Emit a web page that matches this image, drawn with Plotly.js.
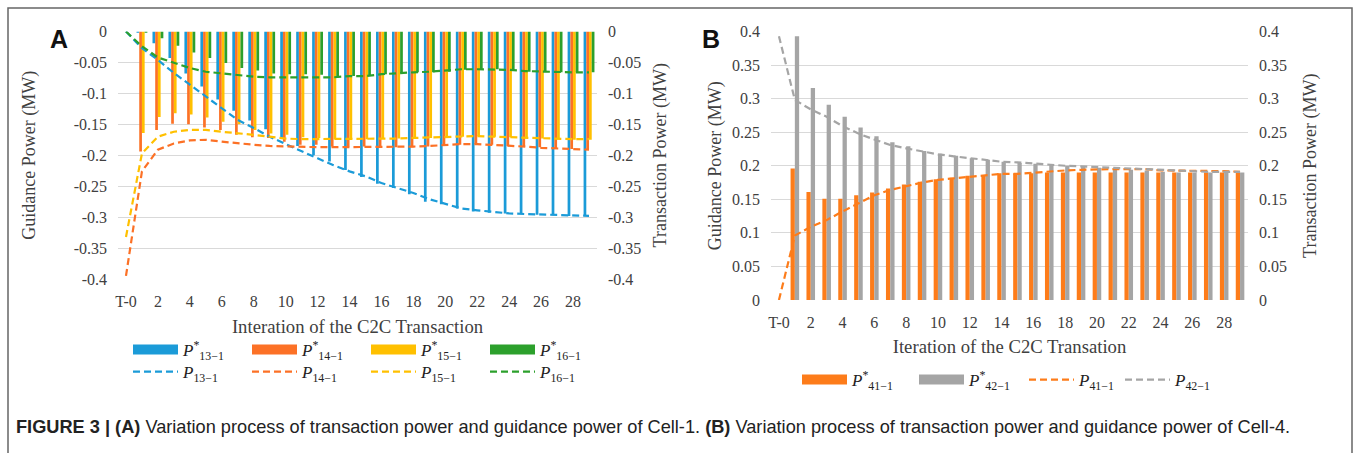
<!DOCTYPE html>
<html>
<head>
<meta charset="utf-8">
<script src="https://cdn.plot.ly/plotly-3.0.1.min.js"></script>
<style>
html,body{margin:0;padding:0;background:#fff;}
#chart{width:1355px;height:453px;}
</style>
</head>
<body>
<div id="chart"></div>
<script>
// ---------- categories ----------
const categories = ['T-0','1','2','3','4','5','6','7','8','9','10','11','12','13','14','15','16','17','18','19','20','21','22','23','24','25','26','27','28','29'];
const xTickVals = ['T-0','2','4','6','8','10','12','14','16','18','20','22','24','26','28'];

// ---------- Panel A: guidance power (bars) ----------
const bar13 = [null,-0.002,-0.019,-0.043,-0.068,-0.089,-0.110,-0.128,-0.144,-0.158,-0.173,-0.185,-0.200,-0.210,-0.224,-0.235,-0.246,-0.253,-0.263,-0.275,-0.279,-0.286,-0.291,-0.293,-0.294,-0.295,-0.296,-0.297,-0.298,-0.298];
const bar14 = [null,-0.194,-0.159,-0.149,-0.150,-0.155,-0.159,-0.167,-0.171,-0.172,-0.178,-0.183,-0.183,-0.186,-0.186,-0.186,-0.186,-0.187,-0.187,-0.186,-0.185,-0.183,-0.182,-0.183,-0.185,-0.186,-0.187,-0.189,-0.190,-0.191];
const bar15 = [null,-0.164,-0.138,-0.132,-0.134,-0.139,-0.146,-0.150,-0.159,-0.165,-0.167,-0.171,-0.172,-0.174,-0.174,-0.174,-0.173,-0.173,-0.173,-0.172,-0.171,-0.170,-0.169,-0.170,-0.171,-0.172,-0.173,-0.174,-0.175,-0.175];
const bar16 = [null,-0.002,-0.011,-0.023,-0.034,-0.043,-0.051,-0.059,-0.063,-0.068,-0.069,-0.069,-0.070,-0.072,-0.072,-0.072,-0.069,-0.067,-0.066,-0.066,-0.065,-0.062,-0.061,-0.061,-0.062,-0.065,-0.065,-0.066,-0.066,-0.066];

// ---------- Panel A: transaction power (dashed lines) ----------
const line13 = [0,-0.027,-0.046,-0.067,-0.086,-0.105,-0.124,-0.143,-0.156,-0.170,-0.182,-0.194,-0.205,-0.216,-0.226,-0.234,-0.245,-0.253,-0.261,-0.271,-0.278,-0.286,-0.289,-0.292,-0.294,-0.295,-0.296,-0.297,-0.297,-0.298];
const line14 = [-0.395,-0.226,-0.191,-0.181,-0.176,-0.175,-0.178,-0.181,-0.183,-0.185,-0.186,-0.187,-0.187,-0.187,-0.187,-0.187,-0.187,-0.186,-0.186,-0.185,-0.183,-0.182,-0.182,-0.183,-0.185,-0.186,-0.188,-0.189,-0.190,-0.191];
const line15 = [-0.332,-0.197,-0.170,-0.162,-0.159,-0.159,-0.162,-0.164,-0.167,-0.170,-0.173,-0.174,-0.174,-0.174,-0.174,-0.174,-0.173,-0.173,-0.172,-0.171,-0.170,-0.169,-0.169,-0.170,-0.171,-0.172,-0.173,-0.174,-0.174,-0.174];
const line16 = [0,-0.024,-0.042,-0.051,-0.059,-0.065,-0.068,-0.071,-0.073,-0.074,-0.074,-0.074,-0.074,-0.074,-0.072,-0.072,-0.069,-0.067,-0.066,-0.065,-0.063,-0.061,-0.061,-0.061,-0.062,-0.064,-0.065,-0.066,-0.066,-0.066];

// ---------- Panel B ----------
const bar41 = [null,0.196,0.161,0.151,0.151,0.156,0.160,0.166,0.172,0.176,0.180,0.182,0.185,0.186,0.189,0.189,0.189,0.190,0.190,0.190,0.190,0.190,0.190,0.190,0.190,0.190,0.190,0.190,0.190,0.190];
const bar42 = [null,0.393,0.316,0.291,0.273,0.257,0.244,0.235,0.229,0.222,0.218,0.215,0.211,0.209,0.206,0.204,0.203,0.201,0.200,0.199,0.197,0.195,0.194,0.193,0.191,0.190,0.190,0.190,0.190,0.190];
const line41 = [0,0.096,0.109,0.119,0.132,0.144,0.156,0.164,0.170,0.175,0.179,0.181,0.184,0.186,0.188,0.188,0.190,0.191,0.193,0.194,0.195,0.195,0.195,0.195,0.193,0.193,0.192,0.192,0.192,0.191];
const line42 = [0.393,0.298,0.284,0.273,0.259,0.248,0.239,0.231,0.226,0.221,0.217,0.214,0.211,0.209,0.206,0.205,0.203,0.201,0.200,0.199,0.198,0.196,0.195,0.194,0.193,0.192,0.192,0.191,0.191,0.191];

// ---------- tick labels ----------
const yTicksA = [0,-0.05,-0.1,-0.15,-0.2,-0.25,-0.3,-0.35,-0.4];
const yTickTextA = ['0','-0.05','-0.1','-0.15','-0.2','-0.25','-0.3','-0.35','-0.4'];
const yTicksB = [0,0.05,0.1,0.15,0.2,0.25,0.3,0.35,0.4];
const yTickTextB = ['0','0.05','0.1','0.15','0.2','0.25','0.3','0.35','0.4'];

// ---------- legend labels ----------
const labA_bar = ['<i>P</i><sup>*</sup><sub>13−1</sub>','<i>P</i><sup>*</sup><sub>14−1</sub>','<i>P</i><sup>*</sup><sub>15−1</sub>','<i>P</i><sup>*</sup><sub>16−1</sub>'];
const labA_line = ['<i>P</i><sub>13−1</sub>','<i>P</i><sub>14−1</sub>','<i>P</i><sub>15−1</sub>','<i>P</i><sub>16−1</sub>'];
const labB = ['<i>P</i><sup>*</sup><sub>41−1</sub>','<i>P</i><sup>*</sup><sub>42−1</sub>','<i>P</i><sub>41−1</sub>','<i>P</i><sub>42−1</sub>'];

// ---------- styling ----------
const W = 1355, H = 453;
const colA = ['#1b9bd8','#fc7126','#ffc000','#2ca02c'];
const colB = ['#fd7c1a','#a5a5a5'];
const serif = 'Liberation Serif, Times New Roman, serif';
const tickFont = {family: serif, size: 16, color: '#404040'};
const titleFont = {family: serif, size: 18, color: '#404040'};
const xTitleFont = {family: serif, size: 18.7, color: '#404040'};
const legFont = {family: serif, size: 17, color: '#222'};
const dashStyle = '7px,4px';

const barsA = [bar13, bar14, bar15, bar16];
const linesA = [line13, line14, line15, line16];
const wA = 0.17, wB = 0.27;

const traces = [];
barsA.forEach((b, i) => {
  traces.push({type: 'bar', x: categories, y: b, xaxis: 'x', yaxis: 'y',
    marker: {color: colA[i], line: {width: 0}}, width: wA, offset: -2*wA + i*wA,
    showlegend: false, hoverinfo: 'skip'});
});
linesA.forEach((l, i) => {
  traces.push({type: 'scatter', mode: 'lines', x: categories, y: l, xaxis: 'x', yaxis: 'y2',
    line: {color: colA[i], width: 2.2, dash: dashStyle}, cliponaxis: false,
    name: labA_line[i], legend: 'legend2'});
});
// legend swatches for bars (wide rectangles as in the original)
barsA.forEach((b, i) => {
  traces.push({type: 'scatter', mode: 'lines', x: [null], y: [null], xaxis: 'x', yaxis: 'y',
    line: {color: colA[i], width: 10}, name: labA_bar[i], legend: 'legend'});
});

[bar41, bar42].forEach((b, i) => {
  traces.push({type: 'bar', x: categories, y: b, xaxis: 'x2', yaxis: 'y3',
    marker: {color: colB[i], line: {width: 0}}, width: wB, offset: -wB + i*wB,
    showlegend: false, hoverinfo: 'skip'});
});
[bar41, bar42].forEach((b, i) => {
  traces.push({type: 'scatter', mode: 'lines', x: [null], y: [null], xaxis: 'x2', yaxis: 'y3',
    line: {color: colB[i], width: 10}, name: labB[i], legend: 'legend3'});
});
[line41, line42].forEach((l, i) => {
  traces.push({type: 'scatter', mode: 'lines', x: categories, y: l, xaxis: 'x2', yaxis: 'y4',
    line: {color: colB[i], width: 2.2, dash: dashStyle}, cliponaxis: false,
    name: labB[i+2], legend: 'legend4'});
});

const xA = [118/W, 597/W], xB = [771/W, 1248/W];
const yA = [1-279/H, 1-31.5/H], yB = [1-300/H, 1-31.5/H];

const xaxisBase = {type: 'category', categoryorder: 'array', categoryarray: categories,
  tickmode: 'array', tickvals: xTickVals, ticktext: xTickVals, ticks: '', showgrid: false,
  zeroline: false, showline: false, tickfont: tickFont, ticklabelstandoff: 11,
  automargin: false, fixedrange: true};

const yBase = {tickmode: 'array', ticks: '', zeroline: false, showline: false,
  gridcolor: '#d9d9d9', gridwidth: 1, tickfont: tickFont, automargin: false,
  ticklabelstandoff: 10, fixedrange: true};

const legendBase = {orientation: 'h', font: legFont, bgcolor: 'rgba(0,0,0,0)',
  itemwidth: 45, xanchor: 'left', yanchor: 'middle', tracegroupgap: 0, traceorder: 'normal',
  itemclick: false, itemdoubleclick: false};

const layout = {
  width: W, height: H, margin: {l: 0, r: 0, t: 0, b: 0},
  paper_bgcolor: '#fff', plot_bgcolor: 'rgba(0,0,0,0)',
  barmode: 'group', showlegend: true, hovermode: false,
  xaxis: Object.assign({}, xaxisBase, {domain: xA, anchor: 'y',
    title: {text: 'Interation of the C2C Transaction', font: xTitleFont, standoff: 10}}),
  yaxis: Object.assign({}, yBase, {domain: yA, anchor: 'x', range: [-0.4, 0],
    tickvals: yTicksA, ticktext: yTickTextA,
    title: {text: 'Guidance Power (MW)', font: titleFont, standoff: 33}}),
  yaxis2: Object.assign({}, yBase, {overlaying: 'y', anchor: 'x', side: 'right', range: [-0.4, 0],
    tickvals: yTicksA, ticktext: yTickTextA, showgrid: false,
    title: {text: 'Transaction Power (MW)', font: titleFont, standoff: 13}}),
  xaxis2: Object.assign({}, xaxisBase, {domain: xB, anchor: 'y3',
    title: {text: 'Iteration of the C2C Transation', font: xTitleFont, standoff: 9}}),
  yaxis3: Object.assign({}, yBase, {domain: yB, anchor: 'x2', range: [0, 0.4],
    tickvals: yTicksB, ticktext: yTickTextB,
    title: {text: 'Guidance Power (MW)', font: titleFont, standoff: 5}}),
  yaxis4: Object.assign({}, yBase, {overlaying: 'y3', anchor: 'x2', side: 'right', range: [0, 0.4],
    tickvals: yTicksB, ticktext: yTickTextB, showgrid: false,
    title: {text: 'Transaction Power (MW)', font: titleFont, standoff: 17}}),
  legend: Object.assign({}, legendBase, {x: 128/W, y: 1-350/H, entrywidth: 59}),
  legend2: Object.assign({}, legendBase, {x: 128/W, y: 1-372/H, entrywidth: 59}),
  legend3: Object.assign({}, legendBase, {x: 797/W, y: 1-380/H, entrywidth: 57}),
  legend4: Object.assign({}, legendBase, {x: 1024/W, y: 1-380/H, entrywidth: 36}),
  annotations: [
    {text: '<b>A</b>', x: 59/W, y: 1-39/H, xref: 'paper', yref: 'paper', showarrow: false,
     xanchor: 'center', yanchor: 'middle', font: {family: 'Liberation Sans, Arial, sans-serif', size: 25, color: '#111'}},
    {text: '<b>B</b>', x: 711/W, y: 1-39/H, xref: 'paper', yref: 'paper', showarrow: false,
     xanchor: 'center', yanchor: 'middle', font: {family: 'Liberation Sans, Arial, sans-serif', size: 25, color: '#111'}},
    {text: '<b>FIGURE 3 | (A)</b> Variation process of transaction power and guidance power of Cell-1. <b>(B)</b> Variation process of transaction power and guidance power of Cell-4.',
     x: 14/W, y: 1-427/H, xref: 'paper', yref: 'paper', showarrow: false, xanchor: 'left', yanchor: 'middle',
     font: {family: 'Liberation Sans, Arial, sans-serif', size: 18.2, color: '#222'}}
  ],
  shapes: [
    {type: 'rect', xref: 'paper', yref: 'paper', x0: 8/W, x1: 1352/W, y0: -0.2, y1: 1-8/H,
     line: {color: '#666', width: 1.5}, fillcolor: 'rgba(0,0,0,0)', layer: 'below'}
  ]
};

Plotly.newPlot('chart', traces, layout, {staticPlot: true, displayModeBar: false});
</script>
</body>
</html>
